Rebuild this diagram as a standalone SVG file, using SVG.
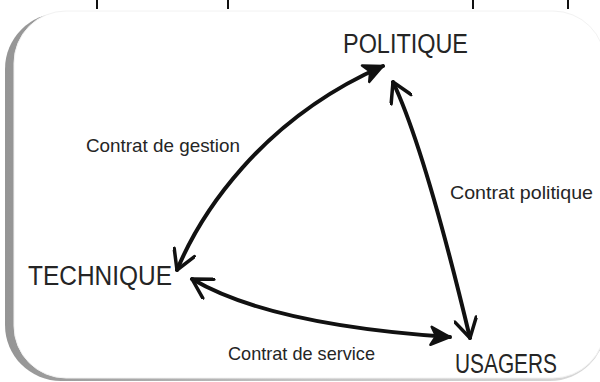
<svg xmlns="http://www.w3.org/2000/svg" width="600" height="382" viewBox="0 0 600 382">
  <defs>
    <style>
      .lbl { font-family: "Liberation Sans", Arial, sans-serif; fill: #252525; }
      .big { font-size: 27px; }
      .small { font-size: 19px; }
      .conn { fill: none; stroke: #111; stroke-width: 4; stroke-linecap: round; }
      .tick { fill: #111; }
    </style>
    <linearGradient id="shadowGrad" x1="0" y1="0" x2="1" y2="0">
      <stop offset="0" stop-color="#959595"/>
      <stop offset="0.5" stop-color="#c4c4c4"/>
      <stop offset="1" stop-color="#d8d8d8"/>
    </linearGradient>
    <marker id="headOpen" markerUnits="userSpaceOnUse" viewBox="0 0 24 24" markerWidth="24" markerHeight="24" refX="22" refY="12" orient="auto-start-reverse">
      <path d="M3,1 L22,12 L3,23" fill="none" stroke="#111" stroke-width="3.5" stroke-linecap="round" stroke-linejoin="round"/>
    </marker>
    <marker id="headFilled" markerUnits="userSpaceOnUse" viewBox="0 0 24 24" markerWidth="24" markerHeight="24" refX="22" refY="12" orient="auto-start-reverse">
      <path d="M3,3 L22,12 L3,21 L8,12 Z" fill="#111" stroke="#111" stroke-width="2.5" stroke-linejoin="round"/>
    </marker>
  </defs>

  <rect x="0" y="0" width="600" height="382" fill="#ffffff"/>

  <!-- cut-off marks at top -->
  <rect class="tick" x="96" y="0" width="2" height="9"/>
  <rect class="tick" x="227" y="0" width="2" height="9"/>
  <rect class="tick" x="472" y="0" width="2" height="9"/>
  <rect class="tick" x="567" y="0" width="2" height="9"/>

  <!-- frame -->
  <g id="frame">
    <rect x="5" y="13" width="601" height="368" rx="56" ry="56" fill="url(#shadowGrad)"/>
    <rect x="14" y="11" width="591" height="367" rx="52" ry="52" fill="#ffffff" stroke="#f2f2f2" stroke-width="1"/>
  </g>

  <!-- connectors -->
  <g id="connectors">
    <path id="c-gestion" class="conn" d="M177,270 C200,215 260,120 383,66" marker-start="url(#headOpen)" marker-end="url(#headFilled)"/>
    <path id="c-politique" class="conn" d="M393,82 Q425,150 470,338" marker-start="url(#headOpen)" marker-end="url(#headOpen)"/>
    <path id="c-service" class="conn" d="M192,279 Q270,325 450,337" marker-start="url(#headOpen)" marker-end="url(#headFilled)"/>
  </g>

  <!-- nodes -->
  <g id="node-politique">
    <text class="lbl big" x="343" y="53" textLength="125" lengthAdjust="spacingAndGlyphs">POLITIQUE</text>
  </g>
  <g id="node-technique">
    <text class="lbl big" x="28" y="285" textLength="144" lengthAdjust="spacingAndGlyphs">TECHNIQUE</text>
  </g>
  <g id="node-usagers">
    <text class="lbl big" x="455" y="373" textLength="102" lengthAdjust="spacingAndGlyphs">USAGERS</text>
  </g>

  <!-- connector labels -->
  <g id="labels">
    <text class="lbl small" x="86" y="152" textLength="154" lengthAdjust="spacingAndGlyphs">Contrat de gestion</text>
    <text class="lbl small" x="450" y="199" textLength="143" lengthAdjust="spacingAndGlyphs">Contrat politique</text>
    <text class="lbl small" x="228" y="360" textLength="147" lengthAdjust="spacingAndGlyphs">Contrat de service</text>
  </g>
</svg>
